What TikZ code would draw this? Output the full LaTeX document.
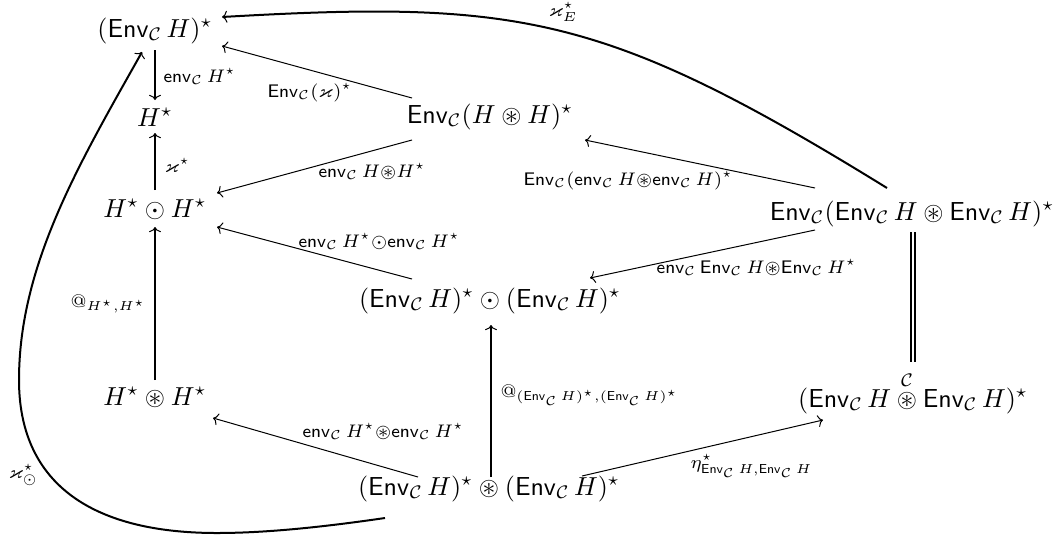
\documentclass[tikz,border=0pt]{standalone}
\usepackage{amsmath,amssymb}
\usetikzlibrary{arrows.meta,calc}
\newcommand{\EnvC}{\mathsf{Env}_{\mathcal{C}}}
\newcommand{\envC}{\mathsf{env}_{\mathcal{C}}}
\begin{document}
\begin{tikzpicture}[x=0.5pt,y=-0.5pt,
  obj/.style={anchor=base, inner sep=0pt, scale=1.3},
  lab/.style={anchor=base west, inner sep=0pt, scale=1.3},
  tip/.style={-{Computer Modern Rightarrow[length=2.6pt,width=6pt,line width=0.5pt]}},
  thinar/.style={line width=0.5pt, tip},
  thickar/.style={line width=1pt, tip},
  heavyar/.style={line width=1.4pt, tip},
  eqline/.style={double, double distance=1pt, line width=1pt}]
\useasboundingbox (0,0) rectangle (1063,536);
% objects
\node[obj] (A) at (155,37) {$(\EnvC\,H)^\star$};
\node[obj] (B) at (155,126) {$H^\star$};
\node[obj] (C) at (155,217) {$H^\star\odot H^\star$};
\node[obj] (D) at (155,405) {$H^\star\circledast H^\star$};
\node[obj] (E) at (490,123) {$\EnvC(H\circledast H)^\star$};
\node[obj] (F) at (490,307) {$(\EnvC\,H)^\star\odot(\EnvC\,H)^\star$};
\node[obj] (G) at (912,220) {$\EnvC(\EnvC\,H\circledast\EnvC\,H)^\star$};
\node[obj] (H) at (913,407) {$(\EnvC\,H\mathbin{\overset{\mathcal{C}}{\circledast}}\EnvC\,H)^\star$};
\node[obj] (I) at (489,495) {$(\EnvC\,H)^\star\circledast(\EnvC\,H)^\star$};
% connectors
\draw[thickar] ($(A.base)+(0,13)$) -- ($(B.base)+(0,-26)$);
\draw[thickar] ($(C.base)+(0,-27)$) -- ($(B.base)+(0,7)$);
\draw[thickar] ($(D.base)+(0,-25)$) -- ($(C.base)+(0,10)$);
\draw[thinar] ($(E.base)+(-78,-25)$) -- ($(A.base)+(67,9)$);
\draw[thinar] ($(E.base)+(-78,17)$) -- ($(C.base)+(62,-24)$);
\draw[thinar] ($(G.base)+(-97,-32)$) -- ($(E.base)+(95,17)$);
\draw[thinar] ($(G.base)+(-97,10)$) -- ($(F.base)+(100,-29)$);
\draw[thinar] ($(F.base)+(-78,-28)$) -- ($(C.base)+(62,10)$);
\draw[heavyar] ($(I.base)+(2,-18)$) -- ($(F.base)+(1,18)$);
\draw[thinar] ($(I.base)+(-71,-18)$) -- ($(D.base)+(58,13)$);
\draw[thinar] ($(I.base)+(93,-19)$) -- ($(H.base)+(-90,13)$);
\draw[eqline] ($(G.base)+(1,12)$) -- ($(H.base)+(0,-45)$);
\draw[thickar] ($(G.base)+(-25,-32)$) .. controls (605,14) and (519,0) .. ($(A.base)+(67,-20)$);
\draw[thickar] ($(I.base)+(-104,23)$) .. controls (330,526) and (270,533) .. (217,533)
  .. controls (87,533) and (19,480) .. (19,380)
  .. controls (19,265) and (79,164) .. ($(A.base)+(-13,15)$);
% labels
\node[lab] (l1) at (163,82) {$\scriptstyle \envC\,H^\star$};
\node[lab] (l2) at (267,97) {$\scriptstyle \EnvC(\varkappa)^\star$};
\node[lab] (l3) at (164,172) {$\scriptstyle \varkappa^\star$};
\node[lab] (l4) at (318,177) {$\scriptstyle \envC\,H\circledast H^\star$};
\node[lab] (l5) at (523,185) {$\scriptstyle \EnvC(\envC\,H\circledast\envC\,H)^\star$};
\node[anchor=base east, inner sep=0pt, scale=1.3] (l6) at (857,273) {$\scriptstyle \envC\,\EnvC\,H\circledast\EnvC\,H^\star$};
\node[lab] (l7) at (298,247) {$\scriptstyle \envC\,H^\star\odot\envC\,H^\star$};
\node[lab] (l8) at (70,307) {$\scriptstyle @_{H^\star,H^\star}$};
\node[lab] (l9) at (500,397) {$\scriptstyle @_{(\EnvC\,H)^\star,(\EnvC\,H)^\star}$};
\node[lab] (l10) at (302,437) {$\scriptstyle \envC\,H^\star\circledast\envC\,H^\star$};
\node[lab] (l11) at (690,468) {$\scriptstyle \eta^\star_{\EnvC\,H,\EnvC\,H}$};
\node[lab] (l12) at (8,478) {$\scriptstyle \varkappa^\star_{\odot}$};
\node[lab] (l13) at (548,16) {$\scriptstyle \varkappa^\star_{E}$};
\end{tikzpicture}
\end{document}
